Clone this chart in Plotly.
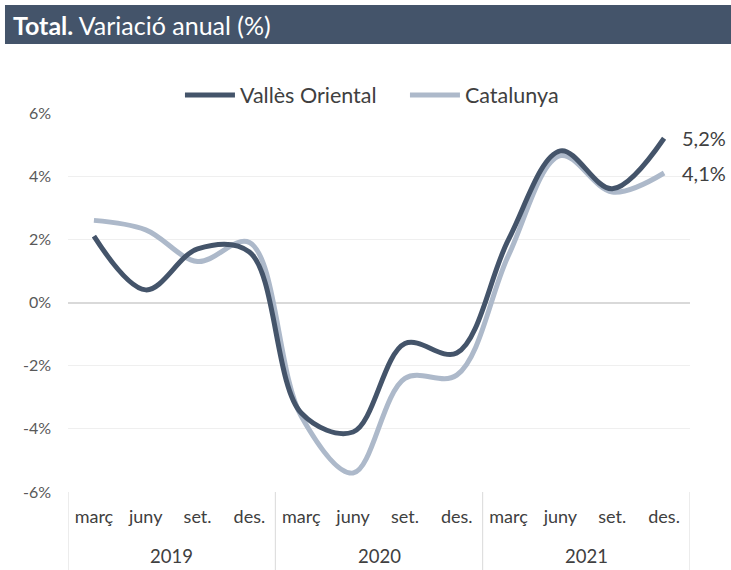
import plotly.graph_objects as go

years = ["2019"] * 4 + ["2020"] * 4 + ["2021"] * 4
months = ["març", "juny", "set.", "des."] * 3
valles = [2.1, 0.4, 1.7, 1.6, -3.5, -4.1, -1.3, -1.6, 2.0, 4.8, 3.6, 5.2]
catalunya = [2.6, 2.3, 1.3, 1.9, -3.6, -5.4, -2.4, -2.3, 1.5, 4.65, 3.5, 4.1]
series_names = ["Vallès Oriental", "Catalunya"]
colors = ["#44546A", "#ADB9CA"]
y_ticks = [-6, -4, -2, 0, 2, 4, 6]
y_ticktext = ["-6%", "-4%", "-2%", "0%", "2%", "4%", "6%"]

FONT = "Lato"
xpos = list(range(len(months)))

fig = go.Figure()
for name, vals, col in [(series_names[1], catalunya, colors[1]),
                        (series_names[0], valles, colors[0])]:
    fig.add_trace(go.Scatter(
        x=xpos, y=vals, name=name, mode="lines",
        line=dict(color=col, width=5, shape="spline", smoothing=1.0),
    ))

# end labels
for vals in (valles, catalunya):
    fig.add_annotation(x=xpos[-1], y=vals[-1], xref="x", yref="y",
                       text=f"{vals[-1]:.1f}%".replace(".", ","),
                       showarrow=False, xanchor="left", xshift=16,
                       font=dict(family=FONT, size=20, color="#404040"))

# year group labels and dividers
groups = []
for i, yr in enumerate(years):
    if not groups or groups[-1][0] != yr:
        groups.append([yr, i, i])
    else:
        groups[-1][2] = i
for yr, i0, i1 in groups:
    fig.add_annotation(x=(i0 + i1) / 2, y=-0.169, xref="x", yref="paper",
                       text=yr, showarrow=False, yanchor="middle",
                       font=dict(family=FONT, size=18.5, color="#404040"))
bounds = [groups[0][1] - 0.5] + [g[2] + 0.5 for g in groups]
for b in bounds:
    fig.add_shape(type="line", xref="x", yref="paper", x0=b, x1=b,
                  y0=0, y1=-0.23, line=dict(color="#D9D9D9", width=1))

# title bar
fig.add_shape(type="rect", xref="paper", yref="paper",
              x0=-0.1013, x1=1.07, y0=1.182, y1=1.285,
              fillcolor="#44546A", line=dict(width=0), layer="below")
fig.add_annotation(xref="paper", yref="paper", x=-0.0916, y=1.2322,
                   xanchor="left", yanchor="middle", showarrow=False,
                   text="<b>Total.</b> Variació anual (%)",
                   font=dict(family=FONT, size=25, color="white"))

fig.update_layout(
    width=731, height=570,
    margin=dict(l=68, r=41, t=113, b=78, autoexpand=False),
    paper_bgcolor="white", plot_bgcolor="white",
    font=dict(family=FONT, color="#595959"),
    legend=dict(orientation="h", x=0.18, xanchor="left", y=1.0475, yanchor="middle",
                font=dict(size=21.5, color="#404040"), traceorder="reversed",
                itemwidth=50, entrywidth=160, bgcolor="rgba(0,0,0,0)"),
    xaxis=dict(range=[-0.5, len(months) - 0.5], tickvals=xpos, ticktext=months,
               showgrid=False, zeroline=False, showline=False, ticks="",
               tickfont=dict(family=FONT, size=18, color="#404040"),
               ticklabelstandoff=12, automargin=False, fixedrange=True),
    yaxis=dict(range=[-6, 6], tickvals=y_ticks, ticktext=y_ticktext,
               showgrid=True, gridcolor="#EFEFEF", gridwidth=1,
               zeroline=True, zerolinecolor="#D9D9D9", zerolinewidth=1.5,
               tickfont=dict(family=FONT, size=16, color="#595959"),
               automargin=False, ticklabelstandoff=16, fixedrange=True),
)

fig.write_html("out.html", config={"displayModeBar": False},
               post_script="document.body.style.margin='0';")
